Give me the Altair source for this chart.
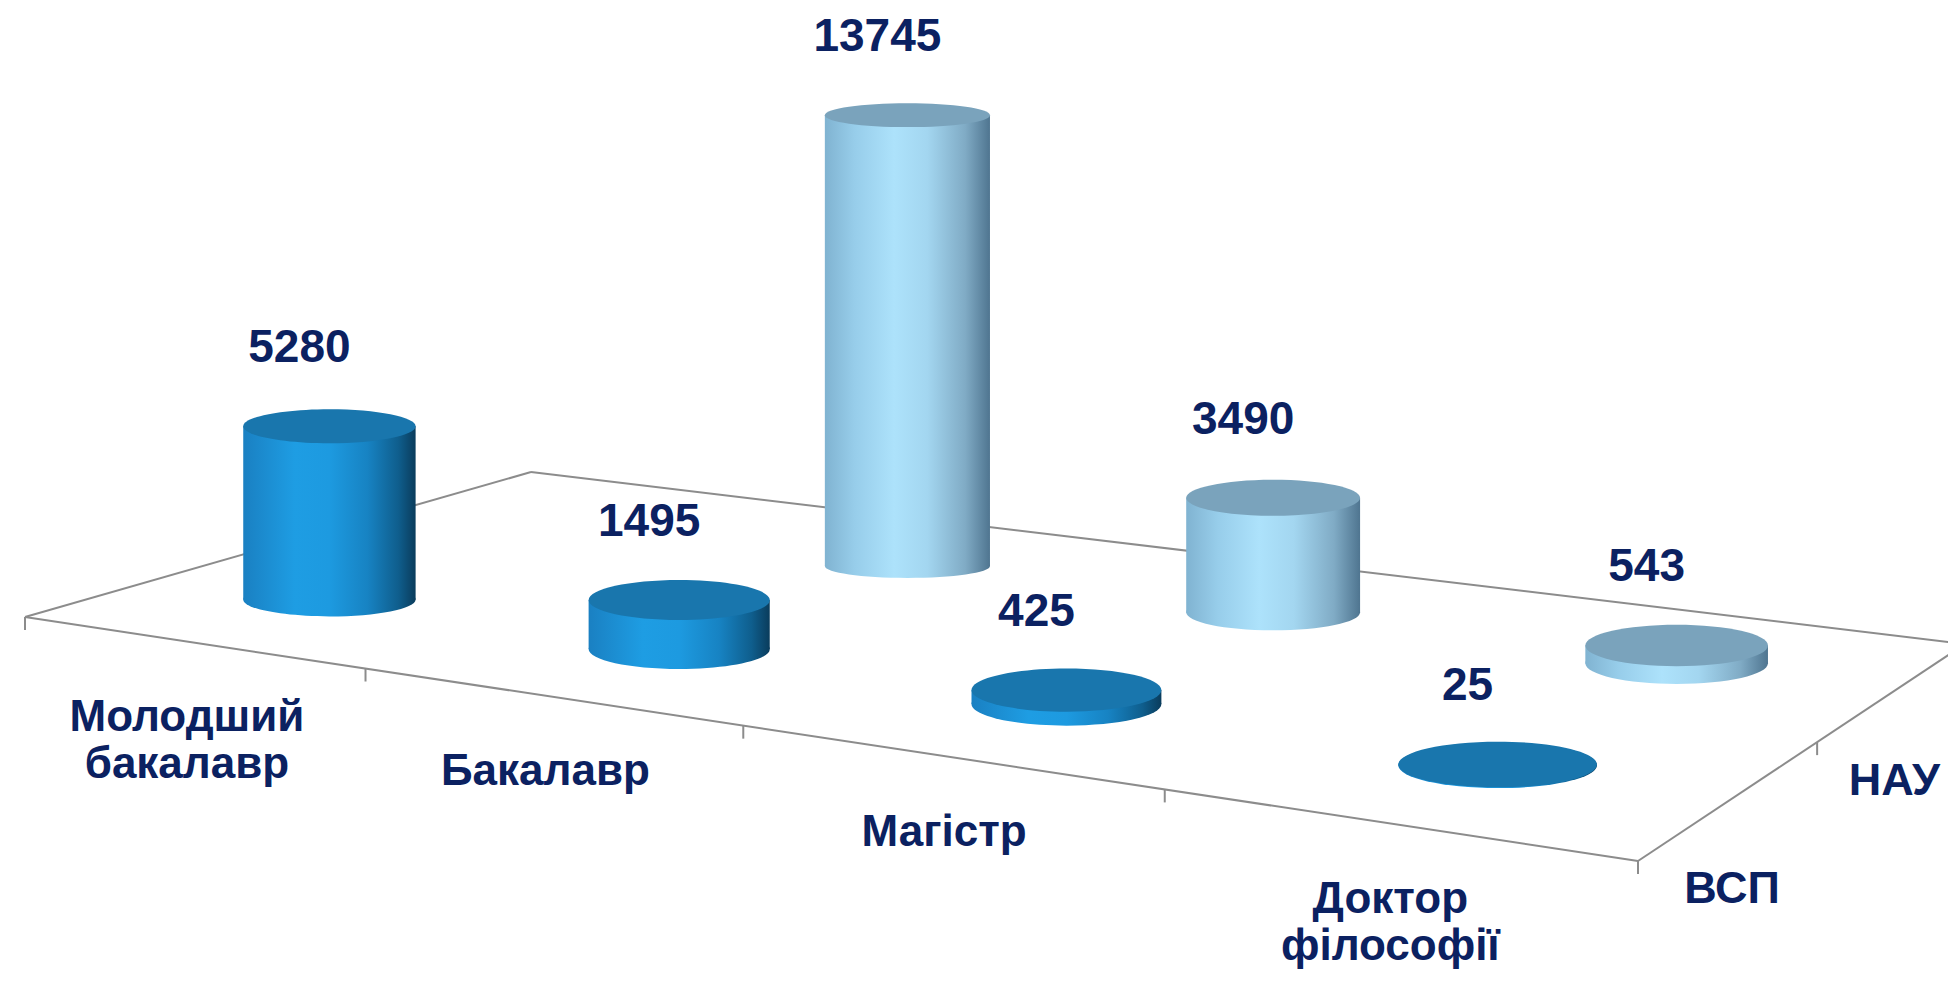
import numpy as np
import pandas as pd
import altair as alt

# ---------------- data ----------------
categories = ["Молодший\nбакалавр", "Бакалавр", "Магістр", "Доктор\nфілософії"]
series = ["ВСП", "НАУ"]
vsp_values = [5280, 1495, 425, 25]
nau_values = [None, 13745, 3490, 543]

# ---------------- layout constants ----------------
# floor quad in page pixels: front-left, front-right, back-right, back-left
FLOOR = [(25, 617), (1638, 861), (1965, 644), (531, 472)]
K = 0.0328          # px per unit of value
LABEL_DY = 78       # value label above top ellipse
LABEL_DX = -30
FONT = "Liberation Sans"
NAVY = "#0b2161"
GRID = "#8c8c8c"

# homography unit floor square -> page pixels
src = [(0, 0), (1, 0), (1, 1), (0, 1)]
A, bvec = [], []
for (u, w), (x, y) in zip(src, FLOOR):
    A.append([u, w, 1, 0, 0, 0, -u * x, -w * x]); bvec.append(x)
    A.append([0, 0, 0, u, w, 1, -u * y, -w * y]); bvec.append(y)
h = np.linalg.solve(np.array(A, float), np.array(bvec, float))


def px(u, w):
    return f"(({h[0]:.6f}*({u})+{h[1]:.6f}*({w})+{h[2]:.6f})/({h[6]:.9f}*({u})+{h[7]:.9f}*({w})+1))"


def py(u, w):
    return f"(({h[3]:.6f}*({u})+{h[4]:.6f}*({w})+{h[5]:.6f})/({h[6]:.9f}*({u})+{h[7]:.9f}*({w})+1))"


xs = alt.Scale(domain=[8, 1948], nice=False, zero=False)
ys = alt.Scale(domain=[8, 976], nice=False, zero=False, reverse=True)


def X(f):
    return alt.X(f, type="quantitative", scale=xs, axis=None)


def Y(f):
    return alt.Y(f, type="quantitative", scale=ys, axis=None)


# ---------------- tables ----------------
rows = []
for r, vals in enumerate([vsp_values, nau_values]):
    for i, v in enumerate(vals):
        rows.append({"series": series[r], "r": r, "i": i, "v": v})
cyl_df = pd.DataFrame(rows)

cat_df = pd.DataFrame({"i": list(range(len(categories))), "label": categories})
ser_df = pd.DataFrame({"r": list(range(len(series))), "label": series})

edges_df = pd.DataFrame({"u1": [0, 1, 1, 0], "w1": [0, 0, 1, 1],
                         "u2": [1, 1, 0, 0], "w2": [0, 1, 1, 0]})
ticks_df = pd.DataFrame({"u": [0, 0.25, 0.5, 0.75, 1, 1, 1],
                         "w": [0, 0, 0, 0, 0, 0.5, 1]})

k = 0.5523
shape_expr = ("'M-1,0C-1,' + (-%s*datum.q) + ' -%s,' + (-datum.q) + ' 0,' + (-datum.q) + "
              "'C%s,' + (-datum.q) + ' 1,' + (-%s*datum.q) + ' 1,0C1,' + (%s*datum.q) + "
              "' %s,' + datum.q + ' 0,' + datum.q + 'C-%s,' + datum.q + ' -1,' + (%s*datum.q) + ' -1,0Z'"
              ) % (k, k, k, k, k, k, k, k)

cyl = (alt.Chart(cyl_df)
       .transform_filter("datum.v > 0")
       .transform_calculate(u="(datum.i + 0.5) / 4")
       .transform_calculate(w="0.25 + 0.5 * datum.r")
       .transform_calculate(cx=px("datum.u", "datum.w"))
       .transform_calculate(cy=py("datum.u", "datum.w"))
       .transform_calculate(wd="168 + 35*datum.u - 32*(datum.w - 0.25)")
       .transform_calculate(hp=f"datum.v * {K}")
       .transform_calculate(xl="datum.cx - datum.wd/2")
       .transform_calculate(xr="datum.cx + datum.wd/2")
       .transform_calculate(ytop="datum.cy - datum.hp")
       .transform_calculate(ry="0.115*datum.wd*(1 - 0.38*datum.hp/460)")
       .transform_calculate(q="datum.ry/(datum.wd/2)")
       .transform_calculate(sz="datum.wd*datum.wd")
       .transform_calculate(shp=shape_expr)
       .transform_calculate(lx=f"datum.cx + {LABEL_DX}")
       .transform_calculate(ly=f"datum.ytop - {LABEL_DY}")
       )

front_grad = alt.Gradient(gradient="linear", x1=0, x2=1, y1=0, y2=0, stops=[
    alt.GradientStop(color="#1a80c2", offset=0),
    alt.GradientStop(color="#1e9de3", offset=0.3),
    alt.GradientStop(color="#1d9ae0", offset=0.5),
    alt.GradientStop(color="#1783c3", offset=0.72),
    alt.GradientStop(color="#0f5e8d", offset=0.9),
    alt.GradientStop(color="#0a3c5c", offset=1)])
back_grad = alt.Gradient(gradient="linear", x1=0, x2=1, y1=0, y2=0, stops=[
    alt.GradientStop(color="#80b3d1", offset=0),
    alt.GradientStop(color="#97cdea", offset=0.18),
    alt.GradientStop(color="#ade2fb", offset=0.42),
    alt.GradientStop(color="#a3d6f0", offset=0.62),
    alt.GradientStop(color="#80abc5", offset=0.85),
    alt.GradientStop(color="#4f7590", offset=1)])
TOPS = {0: "#1976ad", 1: "#7aa3bc"}
GRADS = {0: front_grad, 1: back_grad}


def cylinder_layers(r):
    sub = cyl.transform_filter(f"datum.r == {r}")
    bottom = sub.mark_point(filled=True, opacity=1, strokeWidth=0, color=GRADS[r]).encode(
        x=X("cx"), y=Y("cy"),
        shape=alt.Shape("shp:N", scale=None), size=alt.Size("sz:Q", scale=None))
    body = sub.mark_rect(color=GRADS[r]).encode(x=X("xl"), x2="xr", y=Y("ytop"), y2="cy")
    top = sub.mark_point(filled=True, opacity=1, strokeWidth=0, color=TOPS[r]).encode(
        x=X("cx"), y=Y("ytop"),
        shape=alt.Shape("shp:N", scale=None), size=alt.Size("sz:Q", scale=None))
    return [bottom, body, top]


edges = (alt.Chart(edges_df)
         .transform_calculate(x1=px("datum.u1", "datum.w1"), y1=py("datum.u1", "datum.w1"))
         .transform_calculate(x2=px("datum.u2", "datum.w2"), y2=py("datum.u2", "datum.w2"))
         .mark_rule(color=GRID, strokeWidth=2, clip=True)
         .encode(x=X("x1"), y=Y("y1"), x2="x2", y2="y2"))

ticks = (alt.Chart(ticks_df)
         .transform_calculate(x1=px("datum.u", "datum.w"), y1=py("datum.u", "datum.w"))
         .transform_calculate(y2="datum.y1 + 13")
         .mark_rule(color=GRID, strokeWidth=2, clip=True)
         .encode(x=X("x1"), y=Y("y1"), y2="y2"))

value_labels = cyl.mark_text(font=FONT, fontSize=46, fontWeight="bold", color=NAVY,
                             align="center", baseline="middle").encode(
    x=X("lx"), y=Y("ly"), text=alt.Text("v:Q", format="d"))

cat_labels = (alt.Chart(cat_df)
              .transform_calculate(u="(datum.i + 0.5) / 4")
              .transform_calculate(lx=px("datum.u", "0") + " - 4")
              .transform_calculate(ly=py("datum.u", "0") + " + 54")
              .mark_text(font=FONT, fontSize=44, fontWeight="bold", color=NAVY,
                         align="center", baseline="top", lineBreak="\n", lineHeight=47)
              .encode(x=X("lx"), y=Y("ly"), text="label:N"))

ser_labels = (alt.Chart(ser_df)
              .transform_calculate(w="0.25 + 0.5 * datum.r")
              .transform_calculate(lx=px("1", "datum.w"))
              .transform_calculate(ly=py("1", "datum.w") + " + 90")
              .mark_text(font=FONT, fontSize=45, fontWeight="bold", color=NAVY,
                         align="center", baseline="middle")
              .encode(x=X("lx"), y=Y("ly"), text="label:N"))

layers = [edges, ticks] + cylinder_layers(1) + cylinder_layers(0) + [value_labels, cat_labels, ser_labels]

chart = (alt.layer(*layers)
         .properties(width=1940, height=968, padding=0,
                     autosize=alt.AutoSizeParams(type="none"), background="white")
         .configure_view(stroke=None))

chart.save("out.html", embed_options={"renderer": "svg", "actions": False})
